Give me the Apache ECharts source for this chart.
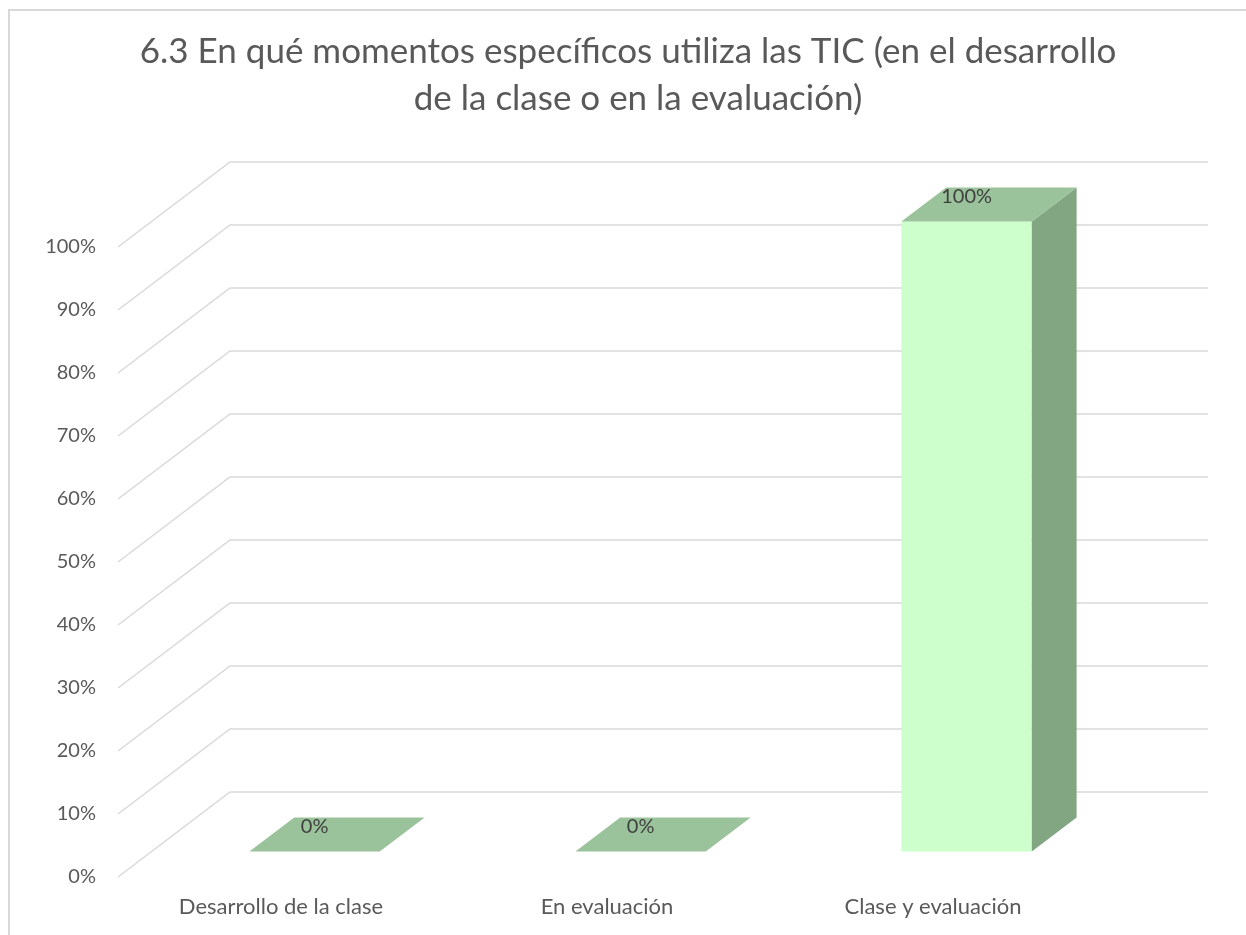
<!DOCTYPE html>
<html>
<head>
<meta charset="utf-8">
<style>
  html, body { margin: 0; padding: 0; background: #ffffff; }
  #chart { width: 1246px; height: 935px; }
</style>
<script src="https://cdn.jsdelivr.net/npm/echarts@6/dist/echarts.min.js"></script>
</head>
<body>
<div id="chart"></div>
<script>
// Survey question and answers
const titleLines = [
  '6.3 En qué momentos específicos utiliza las TIC (en el desarrollo',
  'de la clase o en la evaluación)'
];
const categories = ['Desarrollo de la clase', 'En evaluación', 'Clase y evaluación'];
const percentages = [0, 0, 100];
const tickValues = [0, 10, 20, 30, 40, 50, 60, 70, 80, 90, 100];

// Oblique projection of depth: full depth shifts right and up
const DEPTH_DX = 112;
const DEPTH_DY = -85;
const BAR_FRONT = 0.3;   // bar front plane, fraction of depth
const BAR_BACK = 0.7;    // bar back plane
const BAR_WIDTH = 0.4;   // fraction of category band

const FRONT_COLOR = '#ccffcc';
const TOP_COLOR = '#9bc39b';
const SIDE_COLOR = '#82a582';
const GRID_COLOR = '#d9d9d9';
const TEXT_COLOR = '#595959';
const FONT = 'Lato, "Open Sans", sans-serif';

const chart = echarts.init(document.getElementById('chart'), null, { renderer: 'canvas' });

function shift(pt, d) {
  return [pt[0] + DEPTH_DX * d, pt[1] + DEPTH_DY * d];
}

// Back-wall and side-wall gridlines, one per tick value
function renderGrid(params, api) {
  const v = api.value(0);
  const cs = params.coordSys;
  const y = api.coord([0, v])[1];
  const left = cs.x;
  const right = cs.x + cs.width;
  return {
    type: 'polyline',
    shape: {
      points: [[left, y], shift([left, y], 1), shift([right, y], 1)]
    },
    style: { stroke: GRID_COLOR, lineWidth: 1.5, fill: null },
    silent: true
  };
}

// A 3D column: front face, right side and top
function renderBar(params, api) {
  const idx = api.value(0);
  const v = api.value(1);
  const base = api.coord([idx, 0]);
  const top = api.coord([idx, v]);
  const hw = api.size([1, 0])[0] * BAR_WIDTH / 2;
  const x0 = base[0] - hw, x1 = base[0] + hw;

  const fbl = shift([x0, base[1]], BAR_FRONT);
  const fbr = shift([x1, base[1]], BAR_FRONT);
  const ftl = shift([x0, top[1]], BAR_FRONT);
  const ftr = shift([x1, top[1]], BAR_FRONT);
  const btl = shift([x0, top[1]], BAR_BACK);
  const btr = shift([x1, top[1]], BAR_BACK);
  const bbr = shift([x1, base[1]], BAR_BACK);

  const children = [];
  if (v > 0) {
    children.push({
      type: 'polygon',
      shape: { points: [ftl, ftr, fbr, fbl] },
      style: { fill: FRONT_COLOR }
    });
    children.push({
      type: 'polygon',
      shape: { points: [ftr, btr, bbr, fbr] },
      style: { fill: SIDE_COLOR }
    });
  }
  children.push({
    type: 'polygon',
    shape: { points: [ftl, ftr, btr, btl] },
    style: { fill: TOP_COLOR }
  });
  children.push({
    type: 'text',
    style: {
      text: v + '%',
      x: (ftl[0] + ftr[0]) / 2,
      y: ftl[1] - 25,
      align: 'center',
      verticalAlign: 'middle',
      fill: '#404040',
      font: '20px ' + FONT
    }
  });
  return { type: 'group', children: children };
}

const titleStyle = {
  fontFamily: FONT,
  fontSize: 35,
  fontWeight: 'normal',
  color: TEXT_COLOR
};

const option = {
  backgroundColor: '#ffffff',
  animation: false,
  title: [
    { text: titleLines[0], left: 623, top: 29, textAlign: 'center', textStyle: titleStyle },
    { text: titleLines[1], left: 633, top: 76, textAlign: 'center', textStyle: titleStyle }
  ],
  graphic: [{
    type: 'rect',
    shape: { x: 9, y: 10, width: 1260, height: 960 },
    style: { fill: null, stroke: GRID_COLOR, lineWidth: 2 },
    silent: true,
    z: -10
  }],
  grid: { left: 118, right: 150, top: 247, bottom: 58 },
  xAxis: {
    type: 'category',
    data: categories,
    axisLine: { show: false },
    axisTick: { show: false },
    splitLine: { show: false },
    axisLabel: {
      margin: 19,
      fontFamily: FONT,
      fontSize: 22,
      color: TEXT_COLOR
    }
  },
  yAxis: {
    type: 'value',
    min: 0,
    max: 100,
    interval: 10,
    axisLine: { show: false },
    axisTick: { show: false },
    splitLine: { show: false },
    axisLabel: {
      margin: 22,
      fontFamily: FONT,
      fontSize: 20,
      color: TEXT_COLOR,
      formatter: function (v) { return v + '%'; }
    }
  },
  series: [
    {
      type: 'custom',
      name: 'grid',
      renderItem: renderGrid,
      data: tickValues.map(function (v) { return [v]; }),
      encode: { y: 0 },
      silent: true,
      z: 1
    },
    {
      type: 'custom',
      name: 'Porcentaje',
      renderItem: renderBar,
      data: percentages.map(function (v, i) { return [i, v]; }),
      encode: { x: 0, y: 1 },
      z: 2
    }
  ]
};

chart.setOption(option);
</script>
</body>
</html>
